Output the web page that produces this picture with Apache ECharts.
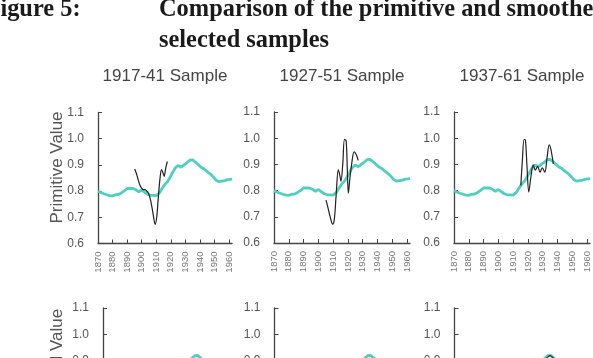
<!DOCTYPE html>
<html>
<head>
<meta charset="utf-8">
<script src="https://cdn.jsdelivr.net/npm/echarts@6/dist/echarts.min.js"></script>
<style>
  html, body { margin: 0; padding: 0; background: #fff; }
  #chart { width: 593px; height: 358px; }
</style>
</head>
<body>
<div id="chart"></div>
<script>
// smoothed benchmark series (teal), yearly 1870 - 1962
const benchStart = 1870;
const benchValues = [
  0.800, 0.798, 0.795, 0.792, 0.790, 0.788, 0.786, 0.785, 0.783, 0.785,
  0.782, 0.783, 0.786, 0.784, 0.787, 0.790, 0.793, 0.797, 0.801, 0.806,
  0.810, 0.811, 0.810, 0.812, 0.810, 0.807, 0.805, 0.800, 0.797, 0.800,
  0.804, 0.801, 0.796, 0.792, 0.788, 0.785, 0.784, 0.786, 0.784, 0.783,
  0.783, 0.785, 0.792, 0.800, 0.810, 0.818, 0.826, 0.832, 0.838, 0.848,
  0.858, 0.868, 0.878, 0.888, 0.895, 0.898, 0.893, 0.891, 0.895, 0.900,
  0.903, 0.908, 0.913, 0.918, 0.920, 0.919, 0.915, 0.910, 0.905, 0.900,
  0.896, 0.890, 0.886, 0.884, 0.880, 0.874, 0.869, 0.866, 0.862, 0.855,
  0.848, 0.842, 0.837, 0.836, 0.838, 0.838, 0.839, 0.840, 0.843, 0.844,
  0.846, 0.845, 0.847
];

// primitive values of the three samples (black)
const s1Years  = [1895.2, 1896.3, 1897.5, 1898.6, 1899.8, 1901, 1902.3, 1903.5, 1904.6, 1905.8, 1907, 1908.2, 1909.2, 1910.3, 1911.4, 1912.5, 1913.6, 1914.6, 1915.4, 1916.5, 1917.6];
const s1Values = [0.884, 0.868, 0.845, 0.825, 0.812, 0.806, 0.806, 0.800, 0.793, 0.772, 0.740, 0.700, 0.673, 0.700, 0.775, 0.845, 0.882, 0.870, 0.856, 0.888, 0.913];

const s2Years  = [1905.2, 1906.5, 1908, 1909.7, 1910.8, 1912, 1913.5, 1914.4, 1915.3, 1916.5, 1917.7, 1918.8, 1919.6, 1920.3, 1921.4, 1922.6, 1924.2, 1925.6, 1927];
const s2Values = [0.764, 0.735, 0.700, 0.672, 0.690, 0.780, 0.879, 0.862, 0.836, 0.900, 0.996, 0.990, 0.880, 0.790, 0.850, 0.904, 0.948, 0.938, 0.915];

const s3Years  = [1915.2, 1916.3, 1917.4, 1918.3, 1919.4, 1920.6, 1922, 1923.6, 1925, 1926.6, 1928.2, 1929.7, 1931.4, 1933, 1934.4, 1935.5, 1937.2];
const s3Values = [0.820, 0.920, 0.995, 0.993, 0.890, 0.795, 0.852, 0.898, 0.878, 0.893, 0.870, 0.887, 0.870, 0.928, 0.975, 0.958, 0.902];

// smoothed value of the 1937-61 sample (only its top shows, bottom right panel)
const s3SmoothYears  = [1916, 1919, 1922, 1925, 1928, 1931, 1933, 1934.5, 1936, 1937.2];
const s3SmoothValues = [0.860, 0.870, 0.875, 0.880, 0.885, 0.900, 0.912, 0.918, 0.914, 0.908];

const sampleNames = ['1917-41 Sample', '1927-51 Sample', '1937-61 Sample'];
const yearTicks = [1870, 1880, 1890, 1900, 1910, 1920, 1930, 1940, 1950, 1960];

const TEAL = '#4fcfc2';
const AXIS = '#444';

const pairs = (xs, ys) => xs.map((x, i) => [x, ys[i]]);
const benchData = benchValues.map((v, i) => [benchStart + i, v]);
const samples = [pairs(s1Years, s1Values), pairs(s2Years, s2Values), pairs(s3Years, s3Values)];

// panel boxes: top row (primitive), bottom row (smoothed)
const boxes = [
  { left: 98, top: 112.5, width: 134 },
  { left: 274, top: 112, width: 136 },
  { left: 454, top: 112, width: 136 },
  { left: 103, top: 308, width: 134 },
  { left: 274.5, top: 308, width: 136 },
  { left: 454.5, top: 308, width: 136 }
];

const grid = boxes.map(b => ({
  left: b.left, top: b.top, width: b.width, height: 131,
  outerBoundsMode: 'none', containLabel: false
}));

const xAxis = boxes.map((b, i) => ({
  type: 'value', gridIndex: i, min: 1870, max: 1962,
  axisLine: { show: true, lineStyle: { color: AXIS, width: 1.3 } },
  axisTick: { show: true, inside: true, length: 4, customValues: yearTicks, lineStyle: { color: AXIS } },
  axisLabel: {
    customValues: yearTicks, formatter: v => String(v), rotate: 90,
    fontSize: 9.5, color: '#777', margin: 8, fontFamily: 'Liberation Sans'
  },
  splitLine: { show: false }
}));

const yAxis = boxes.map((b, i) => ({
  type: 'value', gridIndex: i, min: 0.6, max: 1.1, interval: 0.1,
  axisLine: { show: true, lineStyle: { color: AXIS, width: 1.3 } },
  axisTick: { show: true, inside: true, length: 4, lineStyle: { color: AXIS } },
  axisLabel: { formatter: v => v.toFixed(1), fontSize: 12, color: '#555', margin: 14, fontFamily: 'Liberation Sans' },
  splitLine: { show: false }
}));

const series = [];
boxes.forEach((b, i) => {
  series.push({
    type: 'line', xAxisIndex: i, yAxisIndex: i, data: benchData,
    showSymbol: false, lineStyle: { color: TEAL, width: 2.8 }, z: 2
  });
});
samples.forEach((d, i) => {
  series.push({
    type: 'line', xAxisIndex: i, yAxisIndex: i, data: d, smooth: 0.35,
    showSymbol: false, lineStyle: { color: '#222', width: 1.2 }, z: 3
  });
});
series.push({
  type: 'line', xAxisIndex: 5, yAxisIndex: 5, data: pairs(s3SmoothYears, s3SmoothValues), smooth: 0.35,
  showSymbol: false, lineStyle: { color: '#333', width: 1.2 }, z: 3
});

const serif = 'bold 24.4px "Liberation Serif", "Times New Roman", serif';
const graphic = [
  { type: 'text', x: -14.5, y: 22, style: { text: 'Figure 5:', font: serif, fill: '#1a1a1a', textVerticalAlign: 'bottom' } },
  { type: 'text', x: 159, y: 22, style: { text: 'Comparison of the primitive and smoothed values for', font: serif, fill: '#1a1a1a', textVerticalAlign: 'bottom' } },
  { type: 'text', x: 159, y: 53, style: { text: 'selected samples', font: serif, fill: '#1a1a1a', textVerticalAlign: 'bottom' } },
  { type: 'text', x: 57, y: 167.5, rotation: Math.PI / 2, style: { text: 'Primitive Value', font: '17px "Liberation Sans", Arial, sans-serif', fill: '#555', textAlign: 'center', textVerticalAlign: 'middle' } },
  { type: 'text', x: 57, y: 371, rotation: Math.PI / 2, style: { text: 'Smoothed Value', font: '17px "Liberation Sans", Arial, sans-serif', fill: '#555', textAlign: 'center', textVerticalAlign: 'middle' } }
];
sampleNames.forEach((name, i) => {
  const b = boxes[i];
  graphic.push({
    type: 'text', x: b.left + b.width / 2, y: 76,
    style: { text: name, font: '17px "Liberation Sans", Arial, sans-serif', fill: '#444', textAlign: 'center', textVerticalAlign: 'middle' }
  });
});

const myChart = echarts.init(document.getElementById('chart'));
myChart.setOption({
  animation: false,
  backgroundColor: '#fff',
  grid, xAxis, yAxis, series, graphic
});
</script>
</body>
</html>
